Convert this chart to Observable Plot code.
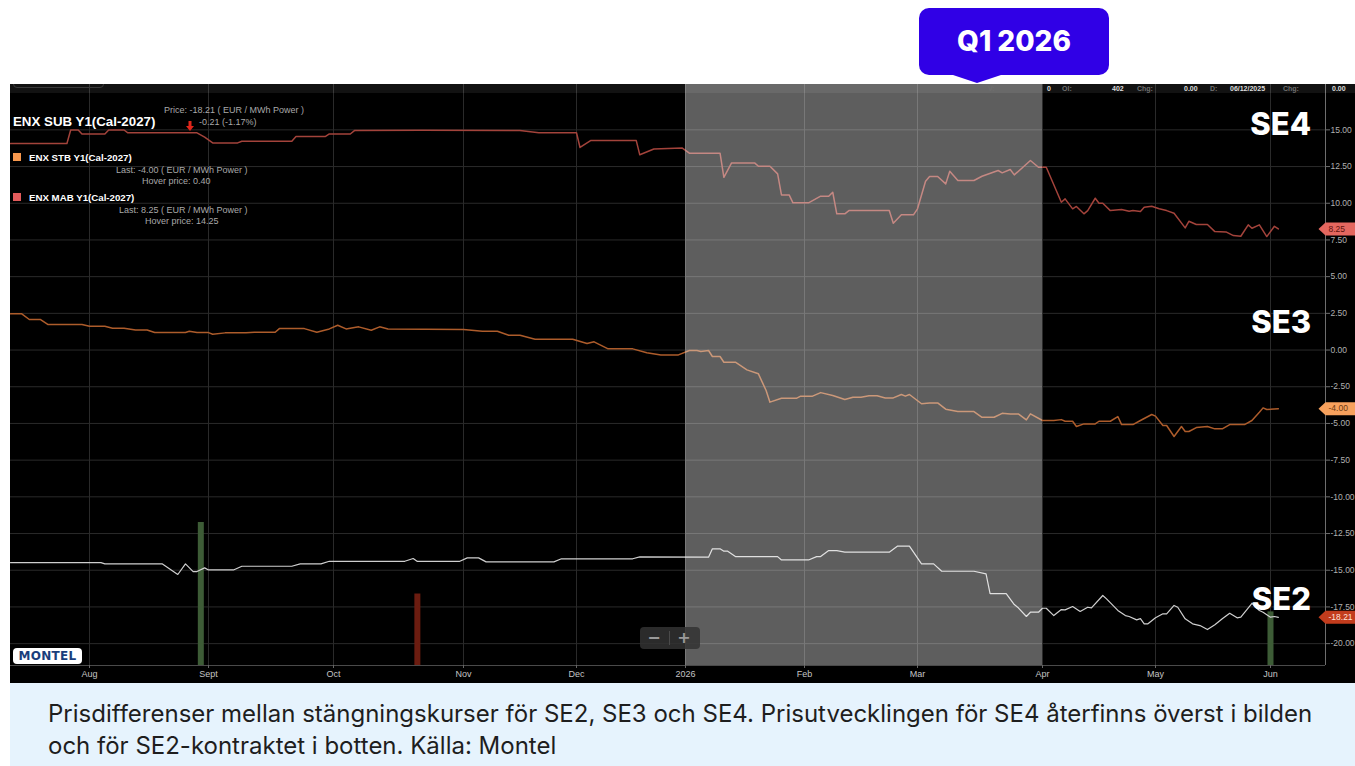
<!DOCTYPE html>
<html><head><meta charset="utf-8">
<script src="https://cdn.jsdelivr.net/npm/d3@7"></script>
<script src="https://cdn.jsdelivr.net/npm/@observablehq/plot@0.6"></script>
<style>
html,body{margin:0;padding:0;background:#fff;}
#wrap{position:relative;width:1355px;height:766px;overflow:hidden;font-family:Inter,"Noto Sans",sans-serif;}
#chart{position:absolute;left:10px;top:84px;width:1345px;height:599px;background:#000;overflow:hidden;}
.abs{position:absolute;white-space:nowrap;}
.lg{font-family:"Liberation Sans",Arial,sans-serif;color:#a9a9a9;font-size:9px;line-height:9px;}
.lgb{font-family:"Liberation Sans",Arial,sans-serif;color:#fff;font-weight:bold;}
.hdr{position:absolute;top:0px;font-family:"Liberation Sans",Arial,sans-serif;font-size:7px;line-height:9px;font-weight:bold;}
.se{font-family:Inter,sans-serif;font-weight:800;font-size:31px;line-height:31px;color:#fff;text-align:right;width:100px;}
</style></head>
<body>
<div id="wrap">
  <div id="chart"></div>
  <!-- header strip of the trading screen -->
  <div class="abs" style="left:10px;top:84px;width:1345px;height:9px;background:rgba(255,255,255,0.07);overflow:hidden;">
    <div class="abs" style="left:3px;top:-8px;width:89px;height:10px;border:1px solid #3a3a3a;border-radius:4px;"></div>
    <span class="hdr" style="left:978px;color:#6f6f6f">V:</span>
    <span class="hdr" style="left:1037px;color:#ddd">0</span>
    <span class="hdr" style="left:1052px;color:#6f6f6f">OI:</span>
    <span class="hdr" style="left:1102px;color:#ddd">402</span>
    <span class="hdr" style="left:1127px;color:#6f6f6f">Chg:</span>
    <span class="hdr" style="left:1174px;color:#ddd">0.00</span>
    <span class="hdr" style="left:1200px;color:#6f6f6f">D:</span>
    <span class="hdr" style="left:1220px;color:#ddd">06/12/2025</span>
    <span class="hdr" style="left:1273px;color:#6f6f6f">Chg:</span>
    <span class="hdr" style="left:1322px;color:#ddd">0.00</span>
  </div>
  <!-- legend -->
  <div class="abs lgb" style="left:13px;top:115px;font-size:13.3px;line-height:14px;">ENX SUB Y1(Cal-2027)</div>
  <div class="abs lg" id="priceTxt" style="left:164px;top:106px;"></div>
  <div class="abs" style="left:186px;top:115px;">
    <svg width="8" height="10"><path d="M2.5,0 H5.5 V5 H8 L4,10 L0,5 H2.5 Z" fill="#e0261b"/></svg>
  </div>
  <div class="abs lg" style="left:199px;top:118px;">-0.21 (-1.17%)</div>
  <div class="abs" style="left:13px;top:153px;width:8px;height:8px;background:#f7984e;"></div>
  <div class="abs lgb" style="left:29px;top:153px;font-size:9.7px;line-height:10px;">ENX STB Y1(Cal-2027)</div>
  <div class="abs lg" id="lastSe3" style="left:116px;top:166px;"></div>
  <div class="abs lg" style="left:142px;top:177px;">Hover price: 0.40</div>
  <div class="abs" style="left:13px;top:193px;width:8px;height:8px;background:#e25b5b;"></div>
  <div class="abs lgb" style="left:29px;top:193px;font-size:9.7px;line-height:10px;">ENX MAB Y1(Cal-2027)</div>
  <div class="abs lg" id="lastSe4" style="left:119px;top:206px;"></div>
  <div class="abs lg" style="left:145px;top:217px;">Hover price: 14.25</div>
  <!-- area labels -->
  <div class="abs se" style="left:1211px;top:108px;">SE4</div>
  <div class="abs se" style="left:1211px;top:306px;">SE3</div>
  <div class="abs se" style="left:1211px;top:583px;">SE2</div>
  <!-- Q1 badge -->
  <div class="abs" style="left:919px;top:8px;width:190px;height:67px;background:#3000e6;border-radius:10px;color:#fff;font-family:Inter,sans-serif;font-weight:800;font-size:28px;line-height:67px;text-align:center;">Q1 2026</div>
  <div class="abs" style="left:950px;top:74px;width:0;height:0;border-left:27px solid transparent;border-right:27px solid transparent;border-top:9px solid #3000e6;"></div>
  <!-- montel logo -->
  <div class="abs" style="left:13px;top:648px;width:69px;height:16px;background:#fff;border-radius:4px;color:#1a3e7c;font-family:'DejaVu Sans',sans-serif;font-weight:bold;font-size:12px;line-height:16px;text-align:center;letter-spacing:0.3px;">MONTEL</div>
  <!-- zoom control -->
  <div class="abs" style="left:640px;top:627px;width:60px;height:22px;background:rgba(50,50,50,0.85);border-radius:4px;"></div>
  <div class="abs" style="left:669px;top:631px;width:1px;height:14px;background:#4a4a4a;"></div>
  <div class="abs" style="left:646px;top:627px;width:16px;color:#9a9a9a;font:bold 16px/22px 'DejaVu Sans',sans-serif;text-align:center;">−</div>
  <div class="abs" style="left:676px;top:627px;width:16px;color:#9a9a9a;font:bold 16px/22px 'DejaVu Sans',sans-serif;text-align:center;">+</div>
  <!-- caption -->
  <div class="abs" style="left:10px;top:683px;width:1345px;height:83px;background:#e6f3fd;"></div>
  <div class="abs" style="left:48px;top:698px;font-family:Inter,sans-serif;font-size:24px;line-height:32px;color:#1e1e1e;">Prisdifferenser mellan stängningskurser för SE2, SE3 och SE4. Prisutvecklingen för SE4 återfinns överst i bilden<br>och för SE2-kontraktet i botten. Källa: Montel</div>
</div>
<script>
// ---------------- data ----------------
const monthTicks = ["2025-08-01","2025-09-01","2025-10-01","2025-11-01","2025-12-01","2026-01-01","2026-02-01","2026-03-01","2026-04-01","2026-05-01","2026-06-01"];
const monthLabels = ["Aug","Sept","Oct","Nov","Dec","2026","Feb","Mar","Apr","May","Jun"];
const yTicks = [-20,-17.5,-15,-12.5,-10,-7.5,-5,-2.5,0,2.5,5,7.5,10,12.5,15];
const q1Start = "2026-01-01", q1End = "2026-04-01";

// SE4: ENX MAB Y1 (Cal-2027), EUR/MWh
const se4 = [["2025-07-11",14.07],["2025-07-26",14.07],["2025-07-27",14.99],["2025-07-29",14.99],["2025-07-30",14.72],["2025-08-05",14.72],["2025-08-06",14.99],["2025-08-10",14.99],["2025-08-11",14.80],["2025-08-29",14.80],["2025-08-31",14.50],["2025-09-02",14.11],["2025-09-08",14.11],["2025-09-09",14.22],["2025-09-21",14.22],["2025-09-22",14.54],["2025-09-29",14.54],["2025-09-30",14.72],["2025-10-05",14.72],["2025-10-06",14.95],["2025-10-22",14.98],["2025-11-16",14.95],["2025-11-21",14.80],["2025-12-01",14.80],["2025-12-02",13.80],["2025-12-05",14.27],["2025-12-18",14.27],["2025-12-19",13.30],["2025-12-23",13.70],["2025-12-31",13.77],["2026-01-02",13.41],["2026-01-10",13.41],["2026-01-11",11.77],["2026-01-13",12.75],["2026-01-19",12.75],["2026-01-20",12.52],["2026-01-23",12.52],["2026-01-25",12.00],["2026-01-26",10.57],["2026-01-28",10.57],["2026-01-29",10.03],["2026-02-02",10.03],["2026-02-05",10.48],["2026-02-07",10.48],["2026-02-08",10.75],["2026-02-09",9.28],["2026-02-11",9.28],["2026-02-12",9.50],["2026-02-22",9.50],["2026-02-23",8.64],["2026-02-25",9.21],["2026-02-28",9.21],["2026-03-01",9.62],["2026-03-03",11.50],["2026-03-04",11.82],["2026-03-06",11.82],["2026-03-08",11.32],["2026-03-09",12.18],["2026-03-11",11.55],["2026-03-15",11.55],["2026-03-17",11.84],["2026-03-21",12.23],["2026-03-22",12.07],["2026-03-24",12.30],["2026-03-25",11.93],["2026-03-29",12.91],["2026-03-31",12.45],["2026-04-02",12.45],["2026-04-06",10.07],["2026-04-07",10.30],["2026-04-09",9.62],["2026-04-10",9.78],["2026-04-12",9.28],["2026-04-13",9.50],["2026-04-15",10.34],["2026-04-16",10.00],["2026-04-17",10.00],["2026-04-19",9.50],["2026-04-22",9.57],["2026-04-24",9.46],["2026-04-25",9.50],["2026-04-27",9.44],["2026-04-28",9.73],["2026-04-30",9.80],["2026-05-02",9.62],["2026-05-04",9.50],["2026-05-06",9.32],["2026-05-09",8.32],["2026-05-10",8.77],["2026-05-12",8.55],["2026-05-15",8.55],["2026-05-17",8.07],["2026-05-20",8.05],["2026-05-22",7.80],["2026-05-24",7.75],["2026-05-26",8.53],["2026-05-27",8.30],["2026-05-29",8.53],["2026-05-31",7.73],["2026-06-02",8.43],["2026-06-03",8.25]];

// SE3: ENX STB Y1 (Cal-2027)
const se3 = [["2025-07-11",2.47],["2025-07-14",2.47],["2025-07-16",2.08],["2025-07-19",2.08],["2025-07-21",1.74],["2025-07-30",1.74],["2025-08-01",1.62],["2025-08-05",1.62],["2025-08-07",1.49],["2025-08-10",1.49],["2025-08-13",1.37],["2025-08-16",1.37],["2025-08-18",1.19],["2025-08-26",1.19],["2025-08-27",1.28],["2025-08-29",1.19],["2025-09-01",1.19],["2025-09-02",1.08],["2025-09-05",1.17],["2025-09-10",1.17],["2025-09-12",1.21],["2025-09-17",1.21],["2025-09-18",1.46],["2025-09-24",1.46],["2025-09-27",1.21],["2025-09-30",1.44],["2025-10-02",1.69],["2025-10-04",1.44],["2025-10-07",1.58],["2025-10-10",1.35],["2025-10-12",1.58],["2025-10-14",1.44],["2025-11-01",1.40],["2025-11-06",1.28],["2025-11-10",1.28],["2025-11-13",1.01],["2025-11-16",1.01],["2025-11-20",0.74],["2025-11-30",0.74],["2025-12-04",0.44],["2025-12-06",0.56],["2025-12-10",0.08],["2025-12-17",0.08],["2025-12-21",-0.19],["2025-12-25",-0.33],["2025-12-30",-0.33],["2026-01-02",-0.03],["2026-01-04",-0.03],["2026-01-05",-0.10],["2026-01-07",-0.03],["2026-01-08",-0.44],["2026-01-10",-0.44],["2026-01-11",-0.83],["2026-01-14",-0.83],["2026-01-17",-1.35],["2026-01-20",-1.62],["2026-01-22",-2.76],["2026-01-23",-3.55],["2026-01-26",-3.28],["2026-01-30",-3.28],["2026-01-31",-3.14],["2026-02-03",-3.14],["2026-02-05",-2.90],["2026-02-08",-3.10],["2026-02-11",-3.37],["2026-02-13",-3.21],["2026-02-15",-3.21],["2026-02-17",-3.12],["2026-02-19",-3.12],["2026-02-21",-3.26],["2026-02-23",-3.26],["2026-02-25",-3.03],["2026-02-26",-3.14],["2026-02-27",-3.03],["2026-03-02",-3.66],["2026-03-04",-3.60],["2026-03-06",-3.60],["2026-03-08",-4.03],["2026-03-11",-4.19],["2026-03-15",-4.19],["2026-03-17",-4.58],["2026-03-20",-4.58],["2026-03-22",-4.31],["2026-03-24",-4.35],["2026-03-26",-4.35],["2026-03-28",-4.76],["2026-03-29",-4.35],["2026-04-01",-4.80],["2026-04-04",-4.80],["2026-04-06",-4.74],["2026-04-07",-4.85],["2026-04-09",-4.85],["2026-04-10",-5.21],["2026-04-12",-5.03],["2026-04-15",-5.03],["2026-04-16",-4.85],["2026-04-19",-4.85],["2026-04-21",-4.53],["2026-04-22",-5.08],["2026-04-25",-5.08],["2026-04-27",-4.80],["2026-04-30",-4.39],["2026-05-01",-4.50],["2026-05-03",-5.14],["2026-05-04",-5.14],["2026-05-06",-5.89],["2026-05-08",-5.21],["2026-05-09",-5.55],["2026-05-10",-5.55],["2026-05-12",-5.28],["2026-05-15",-5.21],["2026-05-17",-5.37],["2026-05-19",-5.37],["2026-05-21",-5.08],["2026-05-25",-5.08],["2026-05-27",-4.80],["2026-05-29",-4.24],["2026-05-30",-3.94],["2026-05-31",-4.05],["2026-06-03",-4.00]];

// SE2: ENX SUB Y1 (Cal-2027)
const se2 = [["2025-07-11",-14.48],["2025-08-04",-14.48],["2025-08-05",-14.57],["2025-08-20",-14.57],["2025-08-24",-15.29],["2025-08-26",-14.57],["2025-08-28",-15.09],["2025-08-29",-15.09],["2025-08-31",-14.84],["2025-09-01",-14.98],["2025-09-07",-14.98],["2025-09-09",-14.73],["2025-09-21",-14.73],["2025-09-23",-14.57],["2025-09-28",-14.57],["2025-09-30",-14.39],["2025-10-18",-14.39],["2025-10-20",-14.20],["2025-10-21",-14.40],["2025-10-31",-14.40],["2025-11-02",-14.16],["2025-11-05",-14.16],["2025-11-07",-14.43],["2025-11-25",-14.43],["2025-11-27",-14.22],["2025-12-17",-14.22],["2025-12-19",-14.09],["2026-01-07",-14.11],["2026-01-08",-13.54],["2026-01-10",-13.54],["2026-01-11",-13.70],["2026-01-12",-13.70],["2026-01-14",-14.07],["2026-01-25",-14.07],["2026-01-26",-14.30],["2026-02-02",-14.30],["2026-02-04",-14.07],["2026-02-05",-14.07],["2026-02-07",-13.66],["2026-02-09",-13.66],["2026-02-11",-13.77],["2026-02-22",-13.77],["2026-02-24",-13.36],["2026-02-27",-13.36],["2026-03-02",-14.57],["2026-03-05",-14.57],["2026-03-07",-15.07],["2026-03-15",-15.07],["2026-03-18",-15.25],["2026-03-19",-16.60],["2026-03-23",-16.60],["2026-03-25",-17.34],["2026-03-26",-17.56],["2026-03-28",-18.15],["2026-03-29",-17.86],["2026-03-31",-17.86],["2026-04-01",-17.59],["2026-04-02",-17.59],["2026-04-04",-18.09],["2026-04-06",-17.68],["2026-04-07",-17.70],["2026-04-09",-17.47],["2026-04-11",-17.81],["2026-04-13",-17.52],["2026-04-14",-17.56],["2026-04-17",-16.72],["2026-04-18",-16.95],["2026-04-21",-17.74],["2026-04-23",-18.09],["2026-04-24",-18.15],["2026-04-26",-18.38],["2026-04-27",-18.30],["2026-04-28",-18.65],["2026-04-29",-18.65],["2026-05-01",-18.24],["2026-05-03",-17.97],["2026-05-04",-17.97],["2026-05-06",-17.40],["2026-05-07",-17.52],["2026-05-09",-18.31],["2026-05-11",-18.65],["2026-05-13",-18.77],["2026-05-15",-19.04],["2026-05-17",-18.72],["2026-05-19",-18.31],["2026-05-21",-17.93],["2026-05-23",-18.24],["2026-05-24",-18.20],["2026-05-27",-17.25],["2026-05-29",-17.74],["2026-05-30",-17.86],["2026-06-01",-18.20],["2026-06-02",-18.15],["2026-06-03",-18.21]];

// traded volume (lots) and direction of the day
const volDates = ["2025-08-30","2025-10-21","2026-06-01"];
const volLots = [40, 20, 15];
const volDir = ["up","down","up"];

// ---------------- layout (scale configuration) ----------------
const W = 1345, H = 599;
const xStart = "2025-07-11", xEnd = "2026-06-15";
const xKnotsPx = [0, 79, 198, 323, 453, 566, 675, 794, 907, 1032, 1145, 1260, 1315]; // trading-day axis, uneven months
const yMin = -21.49, yMax = 18.09;
const lotToY = 0.2435; // volume pane scale (y units per lot)

const parse = d3.utcParse("%Y-%m-%d");
const toRows = arr => arr.map(([d, v]) => ({date: parse(d), value: v}));
const r4 = toRows(se4), r3 = toRows(se3), r2 = toRows(se2);
const monthDates = monthTicks.map(parse);
const labelMap = new Map(monthDates.map((d, i) => [+d, monthLabels[i]]));
const vol = volDates.map((d, i) => ({date: parse(d), lots: volLots[i], dir: volDir[i]}));
const xDomainEnd = parse(xEnd);

const last = rows => rows[rows.length - 1];
document.getElementById("priceTxt").textContent = `Price: ${last(r2).value.toFixed(2)} ( EUR / MWh Power )`;
document.getElementById("lastSe3").textContent = `Last: ${last(r3).value.toFixed(2)} ( EUR / MWh Power )`;
document.getElementById("lastSe4").textContent = `Last: ${last(r4).value.toFixed(2)} ( EUR / MWh Power )`;

const tagSymbol = {draw(ctx) {
  ctx.moveTo(-7, 0); ctx.lineTo(0, -6.5); ctx.lineTo(40, -6.5); ctx.lineTo(40, 6.5); ctx.lineTo(0, 6.5); ctx.closePath();
}};
const tag = (rows, fill, textFill) => [
  Plot.dot([last(rows)], {x: () => xDomainEnd, y: "value", symbol: tagSymbol, fill, stroke: "none", r: 5}),
  Plot.text([last(rows)], {x: () => xDomainEnd, y: "value", text: d => d.value.toFixed(2), dx: 3, textAnchor: "start", fill: textFill, fontSize: 8.5})
];

const chart = Plot.plot({
  width: W, height: H,
  marginLeft: 0, marginRight: 30, marginTop: 0, marginBottom: 18,
  style: {background: "#000", color: "#b5b5b5", fontSize: "8.5px", fontFamily: "'Liberation Sans', Arial, sans-serif", overflow: "visible"},
  x: {type: "utc", domain: [parse(xStart), ...monthDates, xDomainEnd], range: xKnotsPx},
  y: {domain: [yMin, yMax]},
  marks: [
    Plot.gridY(yTicks, {stroke: "#2a2a2a", strokeOpacity: 1}),
    Plot.gridX(monthDates, {stroke: "#2a2a2a", strokeOpacity: 1}),
    Plot.ruleX(vol.filter(d => d.dir === "up"), {x: "date", y1: yMin, y2: d => yMin + d.lots * lotToY, stroke: "#3d5c36", strokeWidth: 6}),
    Plot.ruleX(vol.filter(d => d.dir === "down"), {x: "date", y1: yMin, y2: d => yMin + d.lots * lotToY, stroke: "#6b1c10", strokeWidth: 6}),
    Plot.lineY(r4, {x: "date", y: "value", stroke: "#a3433b", strokeWidth: 1.5}),
    Plot.lineY(r3, {x: "date", y: "value", stroke: "#ad5c2b", strokeWidth: 1.5}),
    Plot.lineY(r2, {x: "date", y: "value", stroke: "#cfcfcf", strokeWidth: 1.2}),
    Plot.rect([{a: parse(q1Start), b: parse(q1End)}], {x1: "a", x2: "b", fill: "#ffffff", fillOpacity: 0.37}),
    Plot.ruleY([yMin], {stroke: "#4a4a4a"}),
    Plot.ruleX([xDomainEnd], {stroke: "#6e6e6e"}),
    Plot.axisY(yTicks, {anchor: "right", tickFormat: d => d.toFixed(2), tickSize: 4, tickPadding: 1, fill: "#b0b0b0", stroke: "#6e6e6e", label: null, fontSize: 8.5}),
    Plot.axisX(monthDates, {tickFormat: d => labelMap.get(+d), tickSize: 3, tickPadding: 2, fill: "#c4c4c4", stroke: "#666", label: null, fontSize: 9}),
    ...tag(r4, "#e4675f", "#5e120d"),
    ...tag(r3, "#f7a15d", "#6b3a12"),
    ...tag(r2, "#c23c1d", "#ffe2d8")
  ]
});
document.getElementById("chart").appendChild(chart);
</script>
</body></html>
